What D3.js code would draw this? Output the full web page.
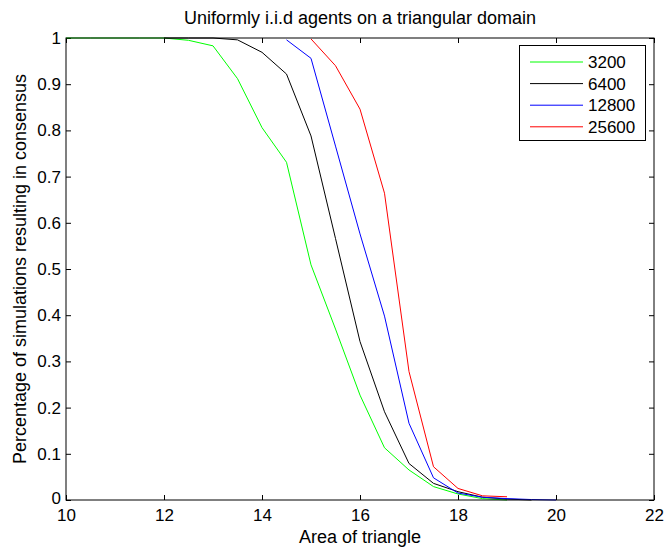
<!DOCTYPE html>
<html><head><meta charset="utf-8">
<script src="https://cdn.jsdelivr.net/npm/d3@7"></script>
<style>body{margin:0;background:#fff}svg{display:block;font-family:"Liberation Sans",Arial,sans-serif}</style>
</head><body><svg id="c" width="664" height="550"></svg>
<script>
const xTicks = [10,12,14,16,18,20,22];
const yTicks = [0,0.1,0.2,0.3,0.4,0.5,0.6,0.7,0.8,0.9,1];
const yTickLabels = ["0","0.1","0.2","0.3","0.4","0.5","0.6","0.7","0.8","0.9","1"];
const seriesNames = ["3200","6400","12800","25600"];
const seriesColors = ["#00ff00","#000000","#0000ff","#ff0000"];
const x3200 = [10,10.5,11,11.5,12,12.5,13,13.5,14,14.5,15,15.5,16,16.5,17,17.5,18,18.5,19];
const y3200 = [1,1,1,1,1,0.995,0.983,0.912,0.806,0.731,0.509,0.37,0.227,0.113,0.065,0.029,0.013,0.003,0.0];
const x6400 = [12,12.5,13,13.5,14,14.5,15,15.5,16,16.5,17,17.5,18,18.5,19,19.5];
const y6400 = [1,1,1,0.996,0.969,0.922,0.788,0.566,0.343,0.191,0.079,0.036,0.018,0.006,0.002,0.0];
const x12800 = [14.5,15,15.5,16,16.5,17,17.5,18,18.5,19,19.5,20];
const y12800 = [0.996,0.956,0.766,0.576,0.398,0.166,0.048,0.015,0.006,0.003,0.001,0.0];
const x25600 = [15,15.5,16,16.5,17,17.5,18,18.5,19];
const y25600 = [0.998,0.94,0.846,0.664,0.278,0.072,0.025,0.009,0.007];
const seriesX = [x3200,x6400,x12800,x25600];
const seriesY = [y3200,y6400,y12800,y25600];

const svg = d3.select("#c");
const L=66,T=38,R=654,B=500;
const x = d3.scaleLinear().domain([10,22]).range([L,R]);
const y = d3.scaleLinear().domain([0,1]).range([B,T]);

const fmtY = (d,i)=>yTickLabels[i];
svg.append("g").attr("transform",`translate(0,${B})`)
  .call(d3.axisBottom(x).tickValues(xTicks).tickSizeInner(-5).tickSizeOuter(0).tickPadding(9).tickFormat(d3.format("d")))
  .call(g=>{g.select(".domain").remove();g.selectAll("text").attr("font-size",17).attr("fill","#000");});
svg.append("g").attr("transform",`translate(0,${T})`)
  .call(d3.axisTop(x).tickValues(xTicks).tickSizeInner(-5).tickSizeOuter(0).tickFormat(""))
  .call(g=>g.select(".domain").remove());
svg.append("g").attr("transform",`translate(${L},0)`)
  .call(d3.axisLeft(y).tickValues(yTicks).tickSizeInner(-5).tickSizeOuter(0).tickPadding(5).tickFormat(fmtY))
  .call(g=>{g.select(".domain").remove();g.selectAll("text").attr("font-size",17).attr("fill","#000");
            g.selectAll(".tick").filter(d=>d===0).select("text").attr("dy","0.2em");});
svg.append("g").attr("transform",`translate(${R},0)`)
  .call(d3.axisRight(y).tickValues(yTicks).tickSizeInner(-5).tickSizeOuter(0).tickFormat(""))
  .call(g=>g.select(".domain").remove());

const line = d3.line().x(d=>x(d[0])).y(d=>y(d[1]));
seriesX.forEach((xs,i)=>{
  const pts = xs.map((v,j)=>[v,seriesY[i][j]]);
  svg.append("path").datum(pts).attr("d",line).attr("fill","none")
    .attr("stroke",seriesColors[i]).attr("stroke-width",1);
});

svg.append("rect").attr("x",L).attr("y",T).attr("width",R-L).attr("height",B-T)
  .attr("fill","none").attr("stroke","#000").attr("stroke-width",1);

const lg = svg.append("g");
lg.append("rect").attr("x",519.5).attr("y",45.5).attr("width",126).attr("height",95)
  .attr("fill","#fff").attr("stroke","#000");
seriesNames.forEach((n,i)=>{
  const yy = 62 + i*21.6;
  lg.append("line").attr("x1",530).attr("x2",583).attr("y1",yy).attr("y2",yy)
    .attr("stroke",seriesColors[i]).attr("stroke-width",1);
  lg.append("text").attr("x",588).attr("y",yy+6).attr("font-size",17).text(n);
});

svg.append("text").attr("x",360).attr("y",23.5).attr("text-anchor","middle").attr("font-size",18)
  .text("Uniformly i.i.d agents on a triangular domain");
svg.append("text").attr("x",360).attr("y",543).attr("text-anchor","middle").attr("font-size",18)
  .text("Area of triangle");
svg.append("text").attr("transform",`translate(26,${(T+B)/2}) rotate(-90)`).attr("text-anchor","middle").attr("font-size",18)
  .text("Percentage of simulations resulting in consensus");
</script></body></html>
